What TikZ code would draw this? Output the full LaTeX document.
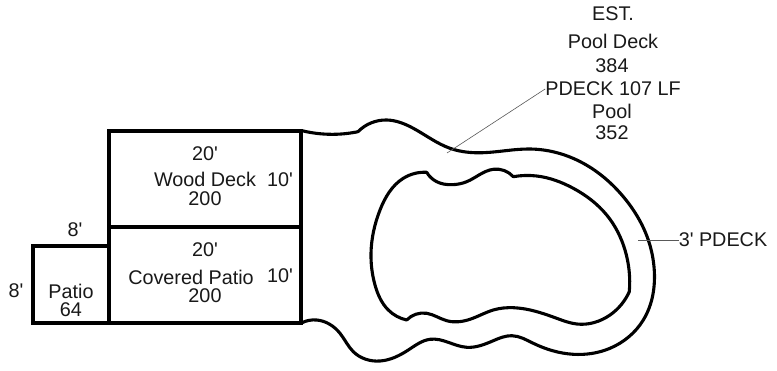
\documentclass[tikz,border=0pt]{standalone}
\usepackage{fontspec}
\usetikzlibrary{hobby}
\setmainfont{Liberation Sans}
\newcommand\ft{\textquotesingle}
\tikzset{
  lbl/.style={inner sep=0pt,font=\fontsize{19.8}{21}\selectfont,text=black!90},
  wall/.style={draw=black,line width=3.3pt,line join=miter},
  curve/.style={draw=black,line width=3.1pt,line join=round,line cap=round,use Hobby shortcut},
  leader/.style={draw=black!65,line width=0.6pt}
}
\begin{document}
\begin{tikzpicture}[x=1pt,y=-1pt]
\useasboundingbox[fill=white] (0,0) rectangle (777,371);
% buildings
\draw[wall] (109,131) rectangle (301,227);
\draw[wall] (109,227) rectangle (301,323);
\draw[wall] (33,246) rectangle (109,323);
% outer deck
\draw[curve] (302,130.7) .. (330,134.3) .. (358,131.7);
\draw[curve] (358,131.7) .. (386.7,120) .. (413.3,128.3) .. (450,148.3) .. (483.3,152.7) .. (530,149) .. (583.3,163.3) .. (623.3,196.7) .. (648.3,240) .. (654,266.7) .. (643.3,320) .. (610,348.3) .. (573.3,354.3) .. (533.3,343.3) .. (511.7,335.7) .. (493.3,340.7) .. (466.7,347.3) .. (430,339.3) .. (408.3,350) .. (380,361) .. (353.3,351.7) .. (340,333.3) .. (316.7,320) .. (302,322.7);
% pool
\draw[curve] (426.7,172.3) .. (436.7,181.7) .. (451.7,184.7) .. (466.7,181.7) .. (493.3,169.3) .. (513.3,176.7);
\draw[curve] (513.3,176.7) .. (536.7,176) .. (573.3,188.3) .. (606.7,215) .. (625,250) .. (629.3,291.7);
\draw[curve] (629.3,291.7) .. (610,315) .. (576.7,324) .. (556.7,318.3) .. (513.3,307.7) .. (493.3,310) .. (470,319.3) .. (446.7,320.7) .. (426.7,313.3) .. (406.7,320);
\draw[curve] (406.7,320) .. (388.3,310) .. (375,285) .. (371,253.3) .. (380,210) .. (403.3,178.3) .. (426.7,172.3);
% texts
\node[lbl] (est) at (613,14) {EST.};
\node[lbl] (pd) at (613,41) {Pool Deck};
\node[lbl] (n384) at (612,66) {384};
\node[lbl] (pdeck) at (613,89) {PDECK 107 LF};
\node[lbl] (pool) at (612,111) {Pool};
\node[lbl] (n352) at (612,133) {352};
\node[lbl] (t3) at (723,240) {3\ft{} PDECK};
\node[lbl] at (205,154) {20\ft};
\node[lbl] at (205,179) {Wood Deck};
\node[lbl] at (205,199) {200};
\node[lbl] at (280,180) {10\ft};
\node[lbl] at (205,250) {20\ft};
\node[lbl] at (191,277) {Covered Patio};
\node[lbl] at (205,296) {200};
\node[lbl] at (280,276) {10\ft};
\node[lbl] at (75,230) {8\ft};
\node[lbl] at (16,291) {8\ft};
\node[lbl] at (71,291) {Patio};
\node[lbl] at (71,310) {64};
% leaders
\coordinate (la) at (447,153);
\coordinate (lb) at (638,240);
\draw[leader] (pdeck.west) -- (la);
\draw[leader] (t3.west) -- (lb);
\end{tikzpicture}
\end{document}
